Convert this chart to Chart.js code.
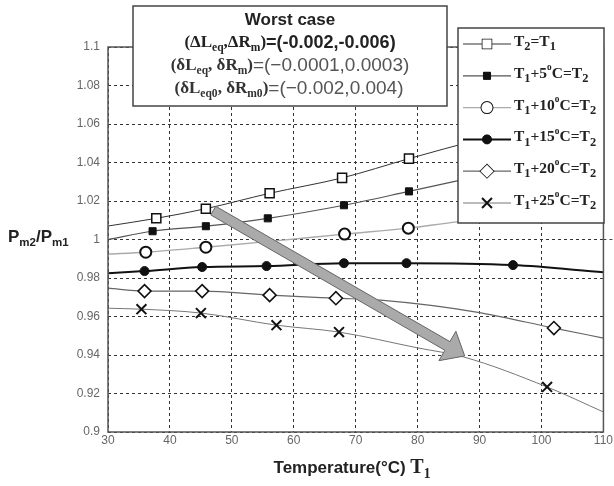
<!DOCTYPE html>
<html>
<head>
<meta charset="utf-8">
<script src="https://cdn.jsdelivr.net/npm/chart.js@4.4.0/dist/chart.umd.min.js"></script>
<style>
html, body { margin: 0; padding: 0; background: #fff; }
#wrap { position: relative; width: 614px; height: 486px; }
</style>
</head>
<body>
<div id="wrap"><canvas id="grafico" width="614" height="486"></canvas></div>
<script>
// Etiquetas de los ejes
var xTicks = [30, 40, 50, 60, 70, 80, 90, 100, 110];
var yTicks = [0.9, 0.92, 0.94, 0.96, 0.98, 1, 1.02, 1.04, 1.06, 1.08, 1.1];

// Nombres de las series ({_x} = subindice, {^x} = superindice)
var nombres = ['T{_2}=T{_1}', 'T{_1}+5{^o}C=T{_2}', 'T{_1}+10{^o}C=T{_2}',
               'T{_1}+15{^o}C=T{_2}', 'T{_1}+20{^o}C=T{_2}', 'T{_1}+25{^o}C=T{_2}'];

// Puntos con marcador [T1, Pm2/Pm1] y puntos extra de la curva (sin marcador)
var marcas1 = [[37.8, 1.011], [45.8, 1.016], [56.1, 1.024], [67.8, 1.032], [78.6, 1.042]];
var curva1  = [[30, 1.007], [90, 1.052], [110, 1.068]];

var marcas2 = [[37.2, 1.0043], [45.8, 1.0069], [55.8, 1.011], [68.1, 1.0178], [78.6, 1.025]];
var curva2  = [[30, 1.0], [110, 1.047]];

var marcas3 = [[36.1, 0.9934], [45.8, 0.996], [68.2, 1.0028], [78.5, 1.0059]];
var curva3  = [[30, 0.9924], [57, 0.9993], [86, 1.009], [110, 1.017]];

var marcas4 = [[35.9, 0.9836], [45.2, 0.9857], [55.6, 0.9862], [68.1, 0.9877], [78.2, 0.9877], [95.4, 0.9867]];
var curva4  = [[30, 0.9825], [110, 0.983]];

var marcas5 = [[35.9, 0.9732], [45.2, 0.9732], [56.1, 0.9711], [66.8, 0.9695], [102, 0.954]];
var curva5  = [[30, 0.9747], [74, 0.9685], [89.5, 0.9623], [110, 0.9488]];

var marcas6 = [[35.4, 0.9638], [45.0, 0.9618], [57.2, 0.9555], [67.3, 0.9519], [100.9, 0.9234]];
var curva6  = [[30, 0.9643], [80, 0.9437], [87.4, 0.939], [110, 0.9104]];

// Flecha gris (inicio y punta, en unidades de los ejes)
var flecha = [[47, 1.015], [87.6, 0.9395]];

var todasMarcas = [marcas1, marcas2, marcas3, marcas4, marcas5, marcas6];
var todasCurvas = [curva1, curva2, curva3, curva4, curva5, curva6];

// Estilo de cada serie
var estilos = [
    { linea: '#333', ancho: 1,   forma: 'rect',     radio: 6.4, relleno: '#fff', borde: '#111', grosor: 1.5 },
    { linea: '#555', ancho: 1.2, forma: 'rect',     radio: 5,   relleno: '#111', borde: '#111', grosor: 1 },
    { linea: '#aaa', ancho: 1.4, forma: 'circle',   radio: 5.5, relleno: '#fff', borde: '#111', grosor: 2 },
    { linea: '#111', ancho: 2,   forma: 'circle',   radio: 4.5, relleno: '#111', borde: '#111', grosor: 1 },
    { linea: '#666', ancho: 1.2, forma: 'rectRot',  radio: 6.5, relleno: '#fff', borde: '#111', grosor: 1.6 },
    { linea: '#777', ancho: 1,   forma: 'crossRot', radio: 7,   relleno: '#111', borde: '#111', grosor: 2 }
];

function aXY(lista) {
    return lista.map(function (p) { return { x: p[0], y: p[1] }; });
}

var datasets = [];
todasCurvas.forEach(function (curva, i) {
    var pts = curva.concat(todasMarcas[i]).sort(function (a, b) { return a[0] - b[0]; });
    datasets.push({
        data: aXY(pts),
        showLine: true,
        pointRadius: 0,
        borderColor: estilos[i].linea,
        borderWidth: estilos[i].ancho,
        cubicInterpolationMode: 'monotone',
        order: 2
    });
});
todasMarcas.forEach(function (marcas, i) {
    datasets.push({
        data: aXY(marcas),
        showLine: false,
        pointStyle: estilos[i].forma,
        pointRadius: estilos[i].radio,
        backgroundColor: estilos[i].relleno,
        borderColor: estilos[i].borde,
        borderWidth: estilos[i].grosor,
        order: 1
    });
});

// Texto con subindices / superindices
function partes(texto) {
    var res = [], re = /\{([_^])([^}]*)\}/g, ult = 0, m;
    while ((m = re.exec(texto))) {
        if (m.index > ult) res.push({ t: texto.slice(ult, m.index), tipo: '' });
        res.push({ t: m[2], tipo: m[1] });
        ult = re.lastIndex;
    }
    if (ult < texto.length) res.push({ t: texto.slice(ult), tipo: '' });
    return res;
}

function escribir(ctx, lista, x, y, alin) {
    var trozos = [];
    lista.forEach(function (s) {
        partes(s.txt).forEach(function (p) {
            var tam = s.size, dy = 0;
            if (p.tipo === '_') { tam = s.size * (s.sub || 0.68); dy = s.size * 0.32; }
            if (p.tipo === '^') { tam = s.size * 0.6; dy = -s.size * 0.4; }
            var fuente = (s.peso || 'normal') + ' ' + tam + 'px ' + s.fam;
            ctx.font = fuente;
            trozos.push({ t: p.t, fuente: fuente, dy: dy, w: ctx.measureText(p.t).width, color: s.color || '#111' });
        });
    });
    var total = trozos.reduce(function (a, b) { return a + b.w; }, 0);
    var cx = alin === 'center' ? x - total / 2 : x;
    ctx.textBaseline = 'middle';
    ctx.textAlign = 'left';
    trozos.forEach(function (tr) {
        ctx.font = tr.fuente;
        ctx.fillStyle = tr.color;
        ctx.fillText(tr.t, cx, y + tr.dy);
        cx += tr.w;
    });
}

function marcador(ctx, e, x, y) {
    ctx.fillStyle = e.relleno;
    ctx.strokeStyle = e.borde;
    ctx.lineWidth = e.grosor;
    Chart.helpers.drawPoint(ctx, { pointStyle: e.forma, radius: e.radio, borderWidth: e.grosor }, x, y);
    ctx.fill();
}

var serif = '"Liberation Serif", "DejaVu Serif", serif';
var sans = '"Liberation Sans", Arial, sans-serif';

var extras = {
    id: 'extras',
    afterDatasetsDraw: function (chart) {
        var ctx = chart.ctx, a = chart.chartArea;
        var xs = chart.scales.x, ys = chart.scales.y;
        ctx.save();

        // linea punteada en 1 que sale del grafico
        ctx.strokeStyle = '#444';
        ctx.lineWidth = 1;
        ctx.setLineDash([3, 3]);
        ctx.beginPath();
        ctx.moveTo(a.right, ys.getPixelForValue(1));
        ctx.lineTo(chart.width, ys.getPixelForValue(1));
        ctx.stroke();
        ctx.setLineDash([]);

        // marco
        ctx.strokeStyle = '#555';
        ctx.lineWidth = 1.5;
        ctx.strokeRect(a.left, a.top, a.right - a.left, a.bottom - a.top);

        // flecha
        var x0 = xs.getPixelForValue(flecha[0][0]), y0 = ys.getPixelForValue(flecha[0][1]);
        var x1 = xs.getPixelForValue(flecha[1][0]), y1 = ys.getPixelForValue(flecha[1][1]);
        var dx = x1 - x0, dy = y1 - y0, L = Math.sqrt(dx * dx + dy * dy);
        var ux = dx / L, uy = dy / L, px = -uy, py = ux;
        var w = 5, hl = 20, hw = 17;
        var bx = x1 - ux * hl, by = y1 - uy * hl;
        ctx.beginPath();
        ctx.moveTo(x0 + px * w, y0 + py * w);
        ctx.lineTo(bx + px * w, by + py * w);
        ctx.lineTo(bx + px * hw, by + py * hw);
        ctx.lineTo(x1, y1);
        ctx.lineTo(bx - px * hw, by - py * hw);
        ctx.lineTo(bx - px * w, by - py * w);
        ctx.lineTo(x0 - px * w, y0 - py * w);
        ctx.closePath();
        ctx.fillStyle = '#aaa';
        ctx.fill();
        ctx.strokeStyle = '#666';
        ctx.lineWidth = 1;
        ctx.stroke();

        // caja "Worst case"
        ctx.fillStyle = '#fff';
        ctx.fillRect(133, 6, 314, 100);
        ctx.strokeStyle = '#444';
        ctx.lineWidth = 1.5;
        ctx.strokeRect(133, 6, 314, 100);
        escribir(ctx, [{ txt: 'Worst case', size: 17, fam: sans, peso: 'bold', color: '#222' }], 290, 20, 'center');
        escribir(ctx, [{ txt: '(ΔL{_eq},ΔR{_m})', size: 17, fam: serif, peso: 'bold', color: '#222' },
                       { txt: '=(-0.002,-0.006)', size: 18, fam: sans, peso: 'bold', color: '#222' }], 290, 43, 'center');
        escribir(ctx, [{ txt: '(δL{_eq}, δR{_m})', size: 17, fam: serif, peso: 'bold', color: '#333' },
                       { txt: '=(−0.0001,0.0003)', size: 19, fam: sans, color: '#555' }], 290, 66, 'center');
        escribir(ctx, [{ txt: '(δL{_eq0}, δR{_m0})', size: 17, fam: serif, peso: 'bold', color: '#333' },
                       { txt: '=(−0.002,0.004)', size: 19, fam: sans, color: '#555' }], 289, 89, 'center');

        // leyenda
        ctx.fillStyle = '#fff';
        ctx.fillRect(458, 28, 146, 195);
        ctx.strokeStyle = '#444';
        ctx.lineWidth = 1.5;
        ctx.strokeRect(458, 28, 146, 195);
        nombres.forEach(function (n, i) {
            var yy = 44 + i * 31.8, e = estilos[i];
            ctx.strokeStyle = e.linea;
            ctx.lineWidth = e.ancho;
            ctx.beginPath();
            ctx.moveTo(463, yy);
            ctx.lineTo(511, yy);
            ctx.stroke();
            marcador(ctx, e, 487, yy);
            escribir(ctx, [{ txt: n, size: 15.5, sub: 0.8, fam: serif, peso: 'bold', color: '#222' }], 514, yy - 2, 'left');
        });

        // titulos de ejes
        escribir(ctx, [{ txt: 'P{_m2}/P{_m1}', size: 17, fam: sans, peso: 'bold', color: '#222' }], 8, 237, 'left');
        escribir(ctx, [{ txt: 'Temperature(°C) ', size: 17, fam: sans, peso: 'bold', color: '#222' },
                       { txt: 'T{_1}', size: 20, fam: serif, peso: 'bold', color: '#222' }], 352, 468, 'center');
        ctx.restore();
    }
};

var ctx = document.getElementById('grafico').getContext('2d');
var grafico = new Chart(ctx, {
    type: 'scatter',
    data: { datasets: datasets },
    options: {
        responsive: false,
        animation: false,
        layout: { padding: { top: 47, right: 10, left: 0, bottom: 0 } },
        plugins: { legend: { display: false }, tooltip: { enabled: false } },
        scales: {
            x: {
                type: 'linear', min: 30, max: 110,
                afterBuildTicks: function (s) { s.ticks = xTicks.map(function (v) { return { value: v }; }); },
                afterFit: function (s) { s.height = 54; },
                ticks: { color: '#666', font: { family: sans, size: 12 }, padding: 1, maxRotation: 0,
                         callback: function (v) { return String(v); } },
                grid: { color: '#333', lineWidth: 1, drawTicks: false },
                border: { display: false, dash: [3, 3] }
            },
            y: {
                type: 'linear', min: 0.9, max: 1.1,
                afterBuildTicks: function (s) { s.ticks = yTicks.map(function (v) { return { value: v }; }); },
                afterFit: function (s) { s.width = 108; },
                ticks: { color: '#666', font: { family: sans, size: 12 }, padding: 8,
                         callback: function (v) { return String(v); } },
                grid: { color: '#333', lineWidth: 1, drawTicks: false },
                border: { display: false, dash: [3, 3] }
            }
        }
    },
    plugins: [extras]
});
</script>
</body>
</html>
